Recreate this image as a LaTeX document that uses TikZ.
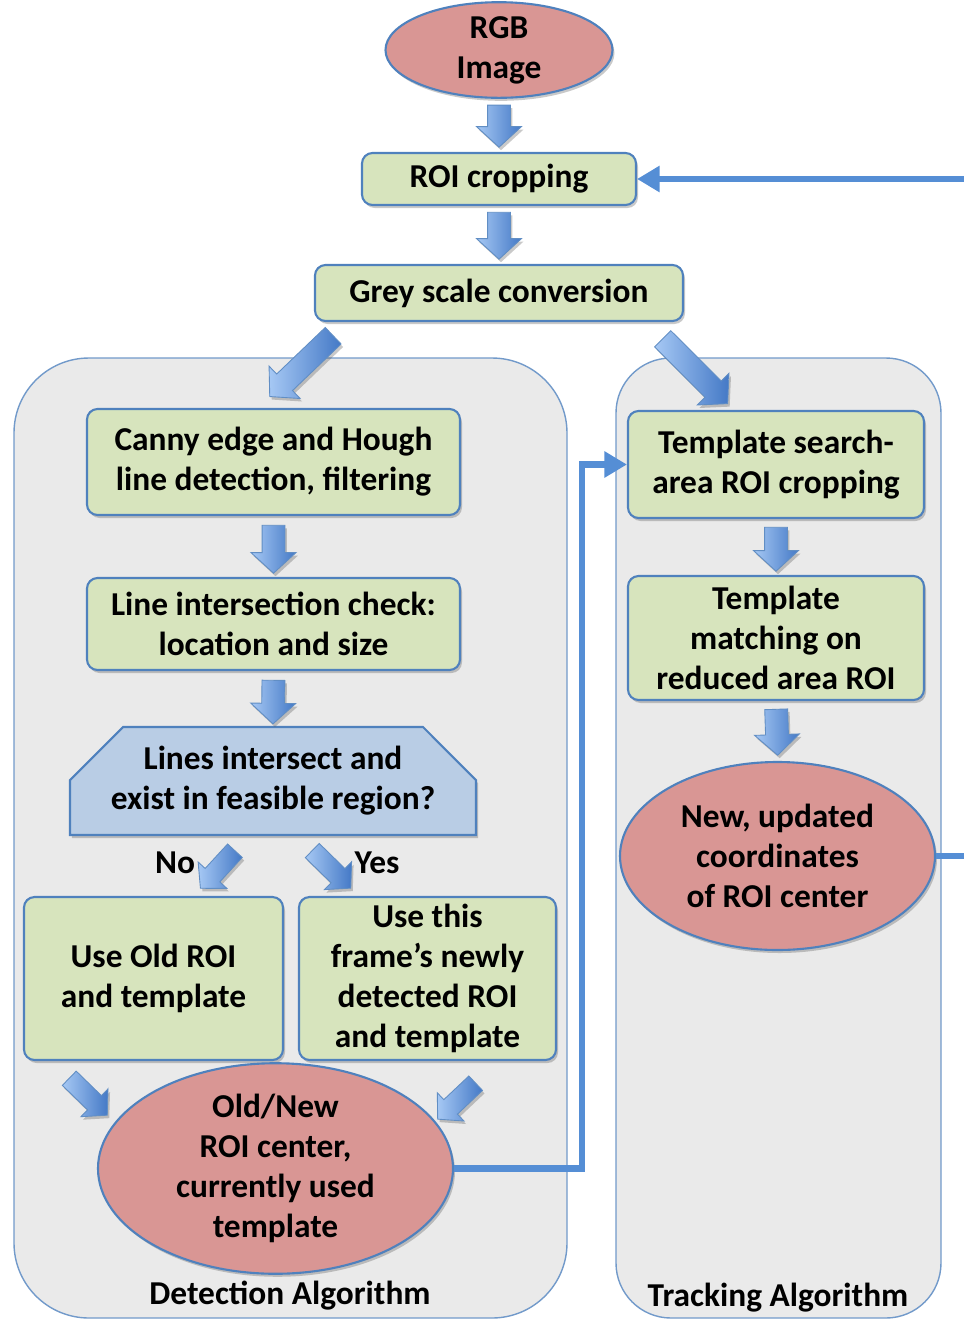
\documentclass[tikz,border=0pt]{standalone}
\usepackage{fontspec}
\setmainfont{Carlito}
\usetikzlibrary{shapes.geometric,shapes.arrows,shadows,calc,arrows.meta,backgrounds}

\definecolor{boxgreen}{HTML}{D7E4BD}
\definecolor{ovalred}{HTML}{D99694}
\definecolor{decblue}{HTML}{B9CDE5}
\definecolor{edgeblue}{HTML}{4F81BD}
\definecolor{areagrey}{HTML}{EAEAEA}
\definecolor{linkblue}{HTML}{558ED5}
\definecolor{arrlight}{HTML}{A6C8F4}
\definecolor{arrdark}{HTML}{4479C6}

\tikzset{
  every node/.style={font=\fontsize{19}{22.8}\selectfont\bfseries},
  softshadow/.style={drop shadow={shadow xshift=0.04cm, shadow yshift=-0.06cm, opacity=0.3, fill=black!70}},
  stepbox/.style={draw=edgeblue, line width=1.2pt, fill=boxgreen, rounded corners=6pt,
    align=center, inner sep=0pt, softshadow},
  oval/.style={ellipse, draw=edgeblue, line width=1.2pt, fill=ovalred, align=center,
    inner sep=0pt, softshadow},
  area/.style={draw=edgeblue!80, line width=0.8pt, fill=areagrey},
  link/.style={draw=linkblue, line width=0.13cm, -{Triangle[width=0.5cm,length=0.45cm]}},
  fatarr/.style={single arrow, draw=edgeblue!90, line width=0.5pt, left color=arrlight,
    right color=arrdark, inner xsep=0pt, single arrow tip angle=95, softshadow}
}

% block arrow between two points, half shaft width as option
\newcommand{\fatarrow}[3][0.22cm]{%
  \path let \p1=#2, \p2=#3, \n1={veclen(\x2-\x1,\y2-\y1)} in
    (\p1) -- node[fatarr, sloped, allow upside down, minimum height=\n1,
      inner ysep=#1, single arrow head extend=#1] {} (\p2);}

\begin{document}
\begin{tikzpicture}
  \useasboundingbox (0,0) rectangle (19.28,-26.4);

  % the two algorithm areas
  \begin{scope}[on background layer]
    \draw[area, rounded corners=1.5cm] (0.28,-7.16) rectangle (11.34,-26.36);
    \draw[area, rounded corners=1.1cm] (12.32,-7.16) rectangle (18.82,-26.36);
    \draw[draw=edgeblue, line width=1.2pt, fill=decblue, softshadow]
      (1.4,-16.7) -- (1.4,-15.6) -- (2.46,-14.54) -- (8.46,-14.54) -- (9.52,-15.6) -- (9.52,-16.7) -- cycle;
  \end{scope}

  \node[oval, minimum width=4.54cm, minimum height=1.7cm] (rgb) at (9.98,-1.0) {RGB\\Image};
  \node[stepbox, minimum width=5.48cm, minimum height=1.04cm] (roi) at (9.98,-3.58) {ROI cropping};
  \node[stepbox, minimum width=7.36cm, minimum height=1.12cm] (grey) at (9.98,-5.86) {Grey scale conversion};

  % detection
  \node[stepbox, minimum width=7.46cm, minimum height=2.12cm] (canny) at (5.47,-9.24) {Canny edge and Hough\\line detection, filtering};
  \node[stepbox, minimum width=7.46cm, minimum height=1.84cm] (inter) at (5.47,-12.48) {Line intersection check:\\location and size};
  \node[align=center, minimum width=8.12cm, minimum height=2.16cm] (dec) at (5.46,-15.62) {Lines intersect and\\exist in feasible region?};
  \node (no) at (3.5,-17.26) {No};
  \node (yes) at (7.54,-17.26) {Yes};
  \node[stepbox, minimum width=5.18cm, minimum height=3.26cm] (useold) at (3.07,-19.57) {Use Old ROI\\and template};
  \node[stepbox, minimum width=5.14cm, minimum height=3.26cm] (usethis) at (8.55,-19.57) {Use this\\frame’s newly\\detected ROI\\and template};
  \node[oval, minimum width=7.1cm, minimum height=3.74cm] (oldnew) at (5.51,-23.37) {Old/New\\ROI center,\\currently used\\template};
  \node (detlabel) at (5.8,-25.92) {Detection Algorithm};

  % tracking
  \node[stepbox, minimum width=5.92cm, minimum height=2.14cm] (tsearch) at (15.52,-9.29) {Template search-\\area ROI cropping};
  \node[stepbox, minimum width=5.92cm, minimum height=2.48cm] (tmatch) at (15.52,-12.76) {Template\\matching on\\reduced area ROI};
  \node[oval, minimum width=6.3cm, minimum height=3.76cm] (newupd) at (15.55,-17.12) {New, updated\\coordinates\\of ROI center};
  \node (tralabel) at (15.56,-25.96) {Tracking Algorithm};

  % block arrows
  \fatarrow{([yshift=-0.02cm]rgb.south)}{([yshift=0.2cm]roi.north)}
  \fatarrow{([yshift=-0.02cm]roi.south)}{([yshift=0.2cm]grey.north)}
  \fatarrow{($(grey.south)+(-3.24,-0.2)$)}{($(canny.north)+(0.0,0.3)$)}
  \fatarrow{($(grey.south)+(3.2,-0.26)$)}{($(tsearch.north)+(-1.04,0.2)$)}
  \fatarrow{([yshift=-0.08cm]canny.south)}{([yshift=0.18cm]inter.north)}
  \fatarrow{([yshift=-0.08cm]inter.south)}{([yshift=0.16cm]dec.north)}
  \fatarrow[0.19cm]{($(dec.south)+(-0.7,-0.24)$)}{($(useold.north)+(1.0,0.22)$)}
  \fatarrow[0.19cm]{($(dec.south)+(0.72,-0.24)$)}{($(usethis.north)+(-1.6,0.22)$)}
  \fatarrow[0.19cm]{($(useold.south)+(-1.75,-0.28)$)}{($(oldnew.center)+(-3.43,1.13)$)}
  \fatarrow[0.19cm]{($(usethis.south)+(1.03,-0.38)$)}{($(oldnew.center)+(3.31,1.05)$)}
  \fatarrow{([yshift=-0.06cm]tsearch.south)}{([yshift=0.18cm]tmatch.north)}
  \fatarrow{([yshift=-0.06cm]tmatch.south)}{([yshift=0.22cm]newupd.north)}

  % results passed on
  \draw[link] (oldnew.east) -- ++(2.56,0) |- (tsearch.west);
  \draw[link] (newupd.east) -- ++(0.62,0) |- (roi.east);
\end{tikzpicture}
\end{document}
